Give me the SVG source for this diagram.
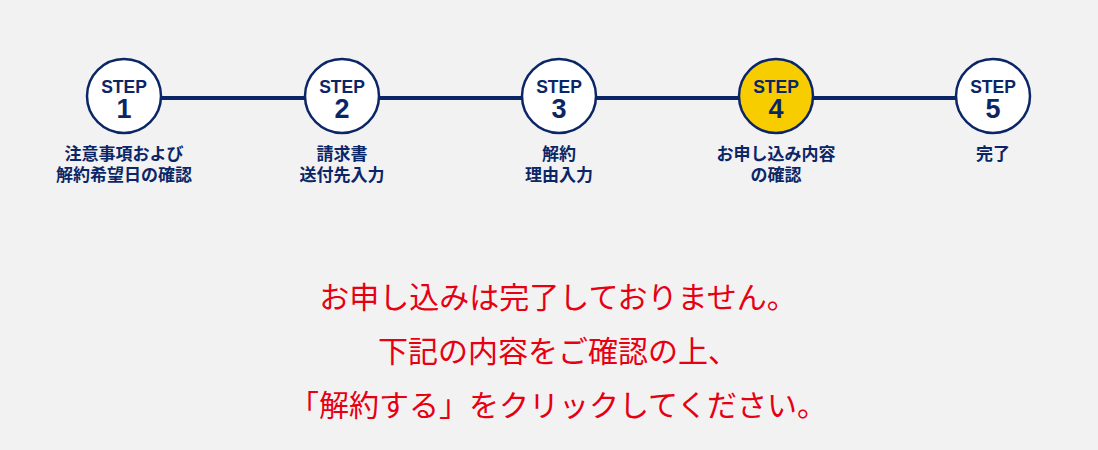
<svg xmlns="http://www.w3.org/2000/svg" width="1098" height="450" viewBox="0 0 1098 450">
<style>
.c{fill:#fff;stroke:#0b2667;stroke-width:2.5}
.a{fill:#f8cd00}
.s{font-family:"Liberation Sans","Noto Sans",sans-serif;font-weight:bold;fill:#0b2667;text-anchor:middle}
.st{font-size:17.5px}
.n{font-size:27px}
.l{font-family:"Noto Sans CJK JP",sans-serif;font-weight:bold;font-size:17px;fill:#0b2667;text-anchor:middle}
.m{font-family:"Noto Sans CJK JP",sans-serif;font-size:30px;fill:#e60012;text-anchor:middle}
</style>
<rect width="1098" height="450" fill="#f2f2f2"/>
<g id="connectors" stroke="#0b2667" stroke-width="4">
<line x1="161" y1="98" x2="305" y2="98"/>
<line x1="379" y1="98" x2="522" y2="98"/>
<line x1="596" y1="98" x2="739" y2="98"/>
<line x1="813" y1="98" x2="956" y2="98"/>
</g>
<g id="step1"><circle class="c" cx="124" cy="96" r="37"/><text class="s st" x="124" y="93">STEP</text><text class="s n" x="124" y="118">1</text><text class="l" x="124" y="160">注意事項および</text><text class="l" x="124" y="181">解約希望日の確認</text></g>
<g id="step2"><circle class="c" cx="342" cy="96" r="37"/><text class="s st" x="342" y="93">STEP</text><text class="s n" x="342" y="118">2</text><text class="l" x="342" y="160">請求書</text><text class="l" x="342" y="181">送付先入力</text></g>
<g id="step3"><circle class="c" cx="559" cy="96" r="37"/><text class="s st" x="559" y="93">STEP</text><text class="s n" x="559" y="118">3</text><text class="l" x="559" y="160">解約</text><text class="l" x="559" y="181">理由入力</text></g>
<g id="step4"><circle class="c a" cx="776" cy="96" r="37"/><text class="s st" x="776" y="93">STEP</text><text class="s n" x="776" y="118">4</text><text class="l" x="776" y="160">お申し込み内容</text><text class="l" x="776" y="181">の確認</text></g>
<g id="step5"><circle class="c" cx="993" cy="96" r="37"/><text class="s st" x="993" y="93">STEP</text><text class="s n" x="993" y="118">5</text><text class="l" x="993" y="160">完了</text></g>
<g id="message">
<text class="m" x="558" y="308">お申し込みは完了しておりません。</text>
<text class="m" x="558" y="362">下記の内容をご確認の上、</text>
<text class="m" x="558" y="416">「解約する」をクリックしてください。</text>
</g>
</svg>
